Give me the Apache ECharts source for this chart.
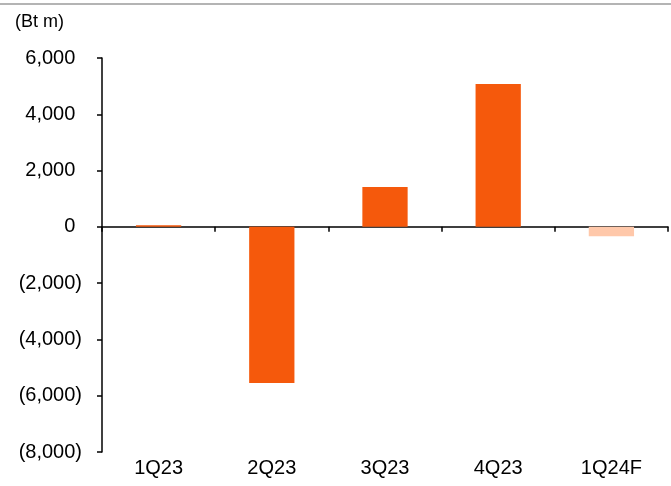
<!DOCTYPE html>
<html><head><meta charset="utf-8">
<script src="https://cdn.jsdelivr.net/npm/echarts@6/dist/echarts.min.js"></script>
<style>html,body{margin:0;padding:0;background:#fff}#c{width:671px;height:486px}</style>
</head><body><div id="c"></div>
<script>
const categories = ['1Q23','2Q23','3Q23','4Q23','1Q24F'];
const values = [60, -5550, 1420, 5080, -330];
const barColors = ['#F5590C','#F5590C','#F5590C','#F5590C','#FFC8AA'];
const unitLabel = '(Bt m)';

const fmt = v => {
  const s = Math.abs(v).toLocaleString('en-US');
  return v < 0 ? '{n|(' + s + ')}' : '{n|' + s + '}{p|)}';
};
const font = 'Liberation Sans, Arial, sans-serif';
const chart = echarts.init(document.getElementById('c'));
chart.setOption({
  animation: false,
  graphic: [
    {type:'rect', shape:{x:0,y:3,width:671,height:2}, style:{fill:'#b4b4b4'}},
    {type:'text', left:15, top:13, style:{text:unitLabel, font:'18px ' + font, fill:'#000'}}
  ],
  grid: {left:102, right:3, top:58, bottom:34},
  xAxis: [
    {type:'category', data:categories, position:'bottom',
     axisLine:{onZero:true, lineStyle:{color:'#000', width:1.5}},
     axisTick:{show:true, alignWithLabel:false, length:5, lineStyle:{color:'#000', width:1.5}},
     axisLabel:{show:false}},
    {type:'category', data:categories, position:'bottom',
     axisLine:{show:false, onZero:false}, axisTick:{show:false},
     axisLabel:{show:true, color:'#000', fontSize:20, fontFamily:font, margin:6}}
  ],
  yAxis: {type:'value', min:-8000, max:6000, interval:2000,
    axisLine:{show:true, lineStyle:{color:'#000', width:1.5}},
    axisTick:{show:true, length:5, lineStyle:{color:'#000', width:1.5}},
    splitLine:{show:false},
    axisLabel:{formatter:fmt, margin:20,
      rich:{n:{color:'#000', fontSize:20, fontFamily:font}, p:{color:'rgba(0,0,0,0)', fontSize:20, fontFamily:font}}}},
  series: [{type:'bar', xAxisIndex:0, barWidth:'40%',
    data: values.map((v,i)=>({value:v, itemStyle:{color:barColors[i]}}))}]
});
</script></body></html>
